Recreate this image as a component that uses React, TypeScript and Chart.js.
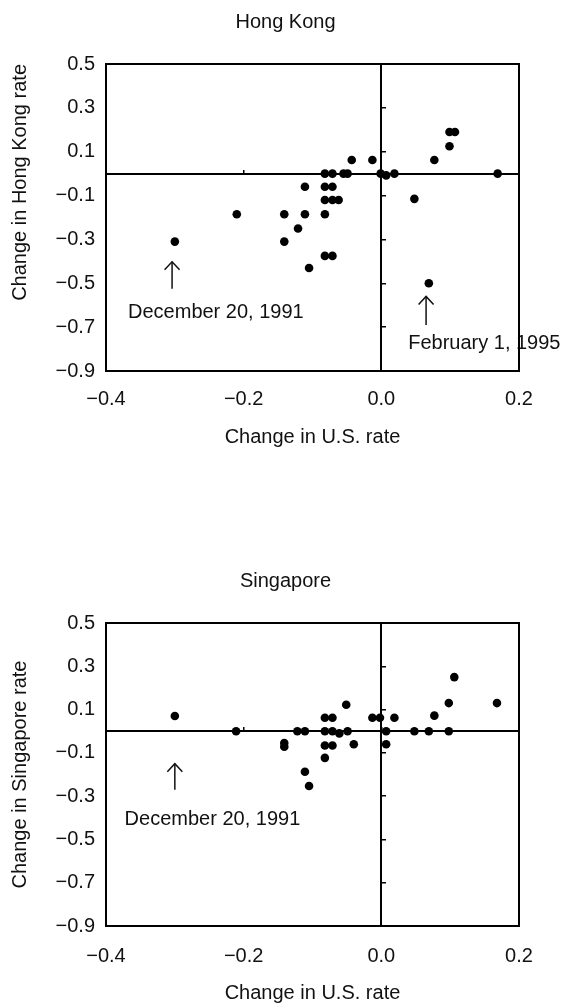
import React, { useEffect, useRef } from "react";
import { Chart, registerables } from "chart.js";

Chart.register(...registerables);

const FONT_FAMILY = '"Liberation Sans", Arial, Helvetica, sans-serif';
const TEXT_COLOR = "#111";

// Tick labels
const xTickValues = [-0.4, -0.2, 0.0, 0.2];
const yTickValues = [-0.9, -0.7, -0.5, -0.3, -0.1, 0.1, 0.3, 0.5];

// Hong Kong: change in U.S. rate vs change in Hong Kong rate
const hkUSChange = [
  -0.3, -0.21, -0.141, -0.141, -0.121, -0.111, -0.111, -0.105,
  -0.082, -0.071, -0.055, -0.049, -0.043, -0.013,
  -0.082, -0.071, -0.082, -0.071, -0.062, -0.082, -0.082, -0.071,
  -0.001, 0.007, 0.019, 0.048, 0.077, 0.099, 0.099, 0.107, 0.169, 0.069,
];
const hkRateChange = [
  -0.31, -0.185, -0.185, -0.31, -0.25, -0.06, -0.185, -0.43,
  0.0, 0.0, 0.0, 0.0, 0.062, 0.062,
  -0.06, -0.06, -0.12, -0.12, -0.12, -0.185, -0.375, -0.375,
  0.0, -0.008, 0.0, -0.115, 0.062, 0.125, 0.19, 0.19, 0.0, -0.5,
];

// Singapore: change in U.S. rate vs change in Singapore rate
const sgUSChange = [
  -0.3, -0.211, -0.141, -0.141, -0.122, -0.111,
  -0.082, -0.071, -0.082, -0.071, -0.061, -0.049, -0.051, -0.04,
  -0.082, -0.071, -0.082, -0.111, -0.105,
  -0.013, -0.002, 0.019, 0.007, 0.007,
  0.048, 0.069, 0.098, 0.077, 0.098, 0.106, 0.168,
];
const sgRateChange = [
  0.07, 0.0, -0.055, -0.072, 0.0, 0.0,
  0.062, 0.062, 0.0, 0.0, -0.01, 0.0, 0.122, -0.06,
  -0.066, -0.066, -0.123, -0.187, -0.253,
  0.062, 0.062, 0.062, 0.0, -0.06,
  0.0, 0.0, 0.0, 0.072, 0.13, 0.25, 0.13,
];

const fmt = (v: number) =>
  (Math.abs(v) < 1e-9 ? "0.0" : v.toFixed(1)).replace("-", "\u2212");

const font = (size: number) => ({ family: FONT_FAMILY, size, weight: "normal" as const });

const annotPlugin = {
  id: "annot",
  beforeDraw(chart: any, _args: any, opts: any) {
    const { ctx, scales } = chart;
    const xs = scales.x;
    const ys = scales.y;
    ctx.save();
    ctx.strokeStyle = TEXT_COLOR;
    ctx.fillStyle = TEXT_COLOR;
    (opts.arrows || []).forEach((a: any) => {
      const x = xs.getPixelForValue(a.x);
      const yTip = ys.getPixelForValue(a.tip);
      const yTail = ys.getPixelForValue(a.tail);
      ctx.lineWidth = 1.5;
      ctx.beginPath();
      ctx.moveTo(x, yTip);
      ctx.lineTo(x, yTail);
      ctx.stroke();
      ctx.beginPath();
      ctx.moveTo(x - 7.5, yTip + 8);
      ctx.lineTo(x, yTip);
      ctx.lineTo(x + 7.5, yTip + 8);
      ctx.stroke();
    });
    (opts.labels || []).forEach((l: any) => {
      ctx.font = `20px ${FONT_FAMILY}`;
      ctx.textAlign = "left";
      ctx.textBaseline = "middle";
      ctx.fillText(l.text, xs.getPixelForValue(l.x), ys.getPixelForValue(l.y));
    });
    ctx.restore();
  },
};

type Cfg = {
  title: string;
  yTitle: string;
  yTitleAlign: string;
  xs: number[];
  ys: number[];
  titlePadTop: number;
  titlePadBottom: number;
  xAxisHeight: number;
  xTitlePadBottom: number;
  xTickPad: number;
  arrows: any[];
  labels: any[];
};

function makeConfig(c: Cfg): any {
  const frame = { display: true, color: "#000", width: 2 };
  return {
    type: "scatter",
    data: {
      datasets: [
        {
          data: c.xs.map((x, i) => ({ x, y: c.ys[i] })),
          pointRadius: 4.3,
          pointHoverRadius: 4.3,
          backgroundColor: "#000",
          borderWidth: 0,
          xAxisID: "x",
          yAxisID: "y",
        },
      ],
    },
    options: {
      responsive: false,
      animation: false,
      events: [],
      layout: { padding: 0 },
      plugins: {
        legend: { display: false },
        tooltip: { enabled: false },
        title: {
          display: true,
          text: c.title,
          font: font(20),
          color: TEXT_COLOR,
          padding: { top: c.titlePadTop, bottom: c.titlePadBottom },
        },
        annot: { arrows: c.arrows, labels: c.labels },
      },
      scales: {
        x: {
          type: "linear",
          position: "bottom",
          min: -0.4,
          max: 0.2,
          afterBuildTicks: (a: any) => {
            a.ticks = xTickValues.map((v) => ({ value: v }));
          },
          afterFit: (a: any) => {
            a.height = c.xAxisHeight;
          },
          ticks: {
            callback: (v: any) => fmt(Number(v)),
            font: font(20),
            color: TEXT_COLOR,
            padding: c.xTickPad,
            maxRotation: 0,
            autoSkip: false,
          },
          grid: { display: false, drawTicks: false },
          border: frame,
          title: {
            display: true,
            text: "Change in U.S. rate",
            font: font(20),
            color: TEXT_COLOR,
            padding: { top: 0, bottom: c.xTitlePadBottom },
          },
        },
        y: {
          type: "linear",
          position: "left",
          min: -0.9,
          max: 0.5,
          afterBuildTicks: (a: any) => {
            a.ticks = yTickValues.map((v) => ({ value: v }));
          },
          afterFit: (a: any) => {
            a.width = 106;
          },
          ticks: {
            callback: (v: any) => fmt(Number(v)),
            font: font(20),
            color: TEXT_COLOR,
            padding: 11,
            autoSkip: false,
          },
          grid: { display: false, drawTicks: false },
          border: frame,
          title: {
            display: true,
            text: c.yTitle,
            align: c.yTitleAlign,
            font: font(20),
            color: TEXT_COLOR,
            padding: { top: 8, bottom: 0 },
          },
        },
        xt: {
          type: "linear",
          position: "top",
          min: -0.4,
          max: 0.2,
          afterFit: (a: any) => {
            a.height = 0;
          },
          ticks: { display: false },
          grid: { display: false, drawTicks: false },
          border: frame,
        },
        yr: {
          type: "linear",
          position: "right",
          min: -0.9,
          max: 0.5,
          afterFit: (a: any) => {
            a.width = 52;
          },
          ticks: { display: false },
          grid: { display: false, drawTicks: false },
          border: frame,
        },
        x0: {
          type: "linear",
          position: { y: 0 },
          min: -0.4,
          max: 0.2,
          afterBuildTicks: (a: any) => {
            a.ticks = xTickValues.map((v) => ({ value: v }));
          },
          ticks: { display: false },
          grid: {
            display: true,
            drawOnChartArea: false,
            drawTicks: true,
            tickLength: -5,
            color: "#000",
            lineWidth: 1.5,
          },
          border: frame,
        },
        y0: {
          type: "linear",
          position: { x: 0 },
          min: -0.9,
          max: 0.5,
          afterBuildTicks: (a: any) => {
            a.ticks = yTickValues.map((v) => ({ value: v }));
          },
          ticks: { display: false },
          grid: {
            display: true,
            drawOnChartArea: false,
            drawTicks: true,
            tickLength: -6,
            color: "#000",
            lineWidth: 1.5,
          },
          border: frame,
        },
      },
    },
    plugins: [annotPlugin],
  };
}

function ScatterPanel({ cfg }: { cfg: Cfg }) {
  const ref = useRef<HTMLCanvasElement | null>(null);
  useEffect(() => {
    if (!ref.current) return;
    const chart = new Chart(ref.current, makeConfig(cfg));
    return () => chart.destroy();
  }, [cfg]);
  return <canvas ref={ref} width={571} height={504} style={{ display: "block", width: 571, height: 504 }} />;
}

const hongKongCfg: Cfg = {
  title: "Hong Kong",
  yTitle: "Change in Hong Kong rate",
  yTitleAlign: "end",
  xs: hkUSChange,
  ys: hkRateChange,
  titlePadTop: 10,
  titlePadBottom: 30,
  xAxisHeight: 133,
  xTitlePadBottom: 55,
  xTickPad: 16,
  arrows: [
    { x: -0.304, tip: -0.402, tail: -0.525 },
    { x: 0.065, tip: -0.56, tail: -0.69 },
  ],
  labels: [
    { text: "December 20, 1991", x: -0.368, y: -0.632 },
    { text: "February 1, 1995", x: 0.039, y: -0.774 },
  ],
};

const singaporeCfg: Cfg = {
  title: "Singapore",
  yTitle: "Change in Singapore rate",
  yTitleAlign: "center",
  xs: sgUSChange,
  ys: sgRateChange,
  titlePadTop: 65,
  titlePadBottom: 30,
  xAxisHeight: 82,
  xTitlePadBottom: 3,
  xTickPad: 18,
  arrows: [{ x: -0.3, tip: -0.15, tail: -0.27 }],
  labels: [{ text: "December 20, 1991", x: -0.373, y: -0.41 }],
};

export default function App() {
  return (
    <div style={{ position: "absolute", left: 0, top: 0, width: 571, height: 1008, background: "#fff" }}>
      <ScatterPanel cfg={hongKongCfg} />
      <ScatterPanel cfg={singaporeCfg} />
    </div>
  );
}
